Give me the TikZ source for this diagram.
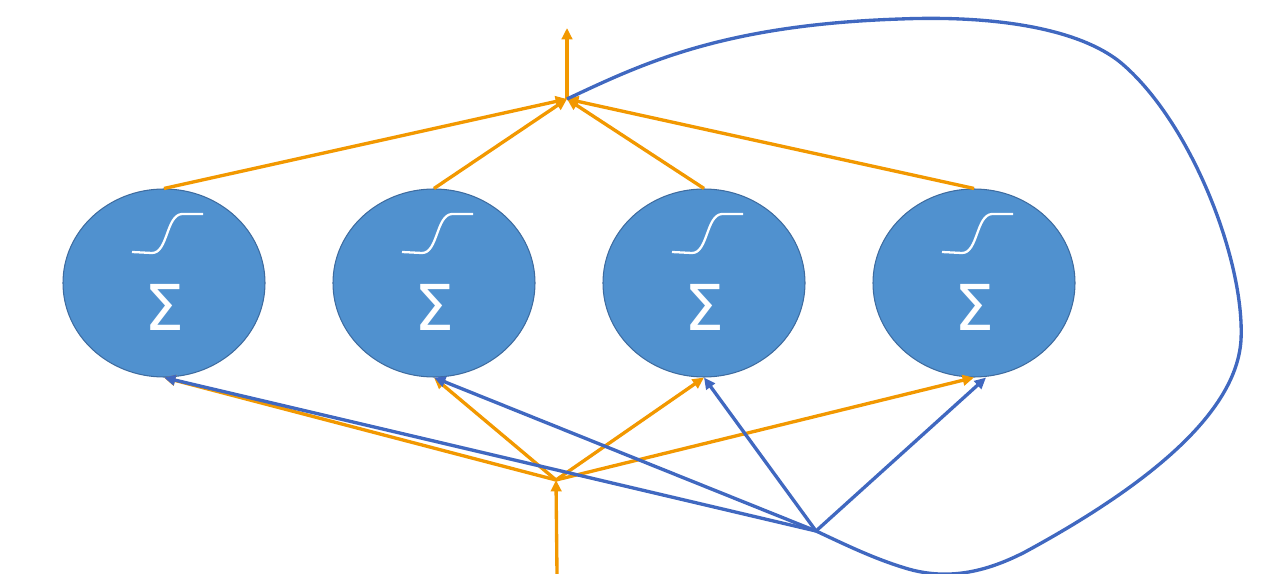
\documentclass[tikz,border=0pt]{standalone}
\usepackage{fontspec}
\setsansfont{DejaVu Sans}
\usetikzlibrary{arrows.meta,shapes.geometric}
\definecolor{neuronfill}{RGB}{80,145,207}
\definecolor{neuronedge}{RGB}{62,108,160}
\definecolor{flow}{RGB}{242,152,0}
\definecolor{recur}{RGB}{64,104,192}
\begin{document}
\begin{tikzpicture}[x=0.02cm,y=-0.02cm,
  neuron/.style={ellipse, draw=neuronedge, line width=0.6pt, fill=neuronfill,
    minimum width=202*0.02cm, minimum height=188*0.02cm, inner sep=0pt},
  fwd/.style={draw=flow, line width=1.9pt, -{Triangle[length=6.5pt,width=6pt]}},
  fb/.style={draw=recur, line width=1.9pt, -{Triangle[length=6.5pt,width=6pt]}},
  fbline/.style={draw=recur, line width=1.9pt},
  sigmoid/.style={draw=white, line width=1.3pt},
  sumsym/.style={text=white, font=\sffamily\fontsize{36}{36}\selectfont, inner sep=0pt}
]
\useasboundingbox (0,0) rectangle (1272,574);

% four summing units
\foreach \i/\x in {1/164,2/434,3/704,4/974}{
  \node[neuron] (n\i) at (\x,283) {};
  \node[sumsym] (s\i) at (\x,307) {Σ};
  \draw[sigmoid] (\x-32,252) -- (\x-12,253) .. controls (\x+4,253) and (\x+2,215) .. (\x+18,214) -- (\x+39,214);
}

% junction points
\coordinate (out) at (567,99);
\coordinate (outtip) at (567,28);
\coordinate (in) at (556,480);
\coordinate (insrc) at (557,574);
\coordinate (fbk) at (816,531);

% output collector
\foreach \i in {1,2,3,4}{
  \draw[fwd] (n\i.north) -- (out);
}
\draw[fwd] (out) -- (outtip);

% input fan-out
\draw[fwd] (insrc) -- (in);
\foreach \i in {1,2,3,4}{
  \draw[fwd] (in) -- (n\i.south);
}

% feedback loop from the output back to every unit
\draw[fbline] (out) .. controls (640,65) and (720,25) .. (900,19)
  .. controls (1000,15) and (1080,30) .. (1120,62)
  .. controls (1190,120) and (1245,260) .. (1241,340)
  .. controls (1236,420) and (1130,495) .. (1025,552)
  .. controls (990,570) and (950,582) .. (905,568)
  .. controls (872,558) and (842,543) .. (fbk);
\draw[fb] (fbk) -- (n1.south);
\draw[fb] (fbk) -- (n2.south);
\draw[fb] (fbk) -- (n3.south);
\draw[fb] (fbk) -- ([xshift=12*0.02cm]n4.south);
\end{tikzpicture}
\end{document}
